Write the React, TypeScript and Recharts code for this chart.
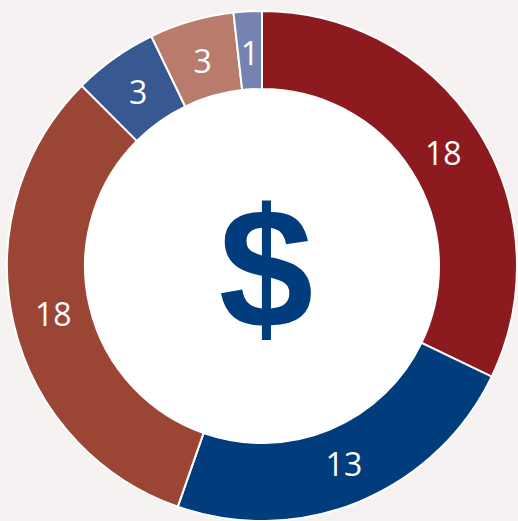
import { PieChart, Pie, Cell, Label } from "recharts";

const categories = ["A", "B", "C", "D", "E", "F"];
const values = [18, 13, 18, 3, 3, 1];
const colors = ["#8c1a1f", "#013d7d", "#9b4535", "#375891", "#b97b6b", "#7683b0"];

const data = categories.map((name, i) => ({ name, value: values[i] }));
const center = [{ name: "center", value: 1 }];

const RADIAN = Math.PI / 180;

const renderLabel = (props: any) => {
  const { cx, cy, midAngle, value } = props;
  const r = 214;
  const x = cx + r * Math.cos(-midAngle * RADIAN);
  const y = cy + r * Math.sin(-midAngle * RADIAN);
  return (
    <text
      x={x}
      y={y}
      fill="#ffffff"
      fontSize={32}
      fontFamily="'Open Sans', 'Noto Sans', sans-serif"
      textAnchor="middle"
      dominantBaseline="central"
    >
      {value}
    </text>
  );
};

const renderDollar = (props: any) => {
  const { viewBox } = props;
  const cx = viewBox?.cx ?? 262;
  const cy = viewBox?.cy ?? 266;
  return (
    <text
      x={cx + 4}
      y={cy + 2}
      fill="#013d7d"
      fontSize={170}
      fontWeight="bold"
      fontFamily="'Liberation Sans', Arial, sans-serif"
      textAnchor="middle"
      dominantBaseline="central"
    >
      $
    </text>
  );
};

export default function App() {
  return (
    <div style={{ position: "absolute", left: 0, top: 0, width: 518, height: 521, background: "#f7f2f2" }}>
      <PieChart width={518} height={521} margin={{ top: 0, right: 0, bottom: 0, left: 0 }}>
        <Pie
          data={center}
          dataKey="value"
          cx={262}
          cy={266}
          innerRadius={0}
          outerRadius={177}
          stroke="none"
          fill="#ffffff"
          isAnimationActive={false}
        >
          <Label position="center" content={renderDollar} />
        </Pie>
        <Pie
          data={data}
          dataKey="value"
          cx={262}
          cy={266}
          innerRadius={177}
          outerRadius={255}
          startAngle={90}
          endAngle={-270}
          stroke="#ffffff"
          strokeWidth={2}
          label={renderLabel}
          labelLine={false}
          isAnimationActive={false}
        >
          {data.map((d, i) => (
            <Cell key={d.name} fill={colors[i]} />
          ))}
        </Pie>
      </PieChart>
    </div>
  );
}
